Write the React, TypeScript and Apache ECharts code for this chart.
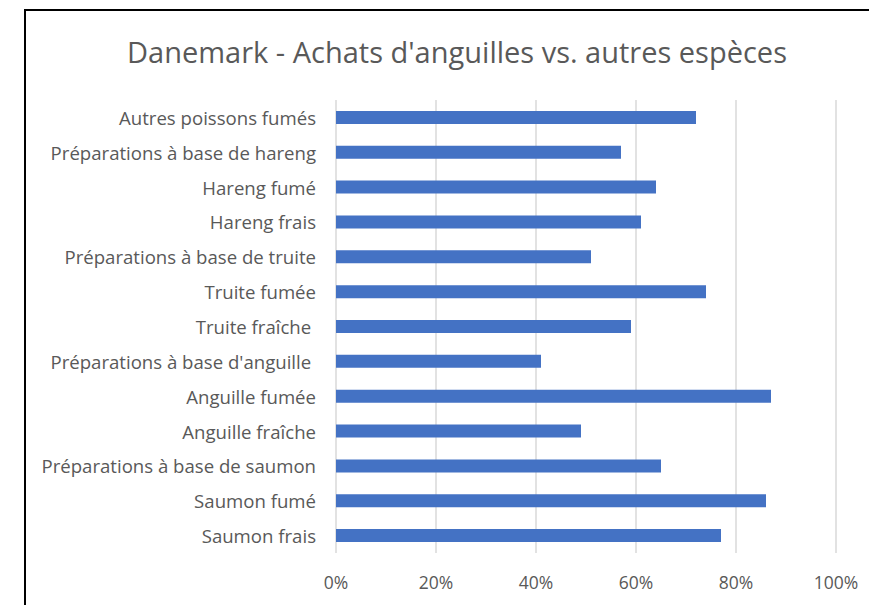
import React, { useEffect, useRef } from "react";
import * as echarts from "echarts";

const categories = [
  "Saumon frais",
  "Saumon fumé",
  "Préparations à base de saumon",
  "Anguille fraîche",
  "Anguille fumée",
  "Préparations à base d'anguille ",
  "Truite fraîche ",
  "Truite fumée",
  "Préparations à base de truite",
  "Hareng frais",
  "Hareng fumé",
  "Préparations à base de hareng",
  "Autres poissons fumés",
];
const values = [0.77, 0.86, 0.65, 0.49, 0.87, 0.41, 0.59, 0.74, 0.51, 0.61, 0.64, 0.57, 0.72];
const titleText = "Danemark - Achats d'anguilles vs. autres espèces";

const FONT = "'Open Sans', 'Noto Sans', sans-serif";

export default function App() {
  const ref = useRef<HTMLDivElement>(null);
  useEffect(() => {
    if (!ref.current) return;
    const chart = echarts.init(ref.current, undefined, { renderer: "svg" });
    chart.setOption({
      animation: false,
      backgroundColor: "#ffffff",
      graphic: [
        { type: "line", shape: { x1: 25, y1: 10, x2: 25, y2: 605 }, style: { stroke: "#000", lineWidth: 2 } },
        { type: "line", shape: { x1: 24, y1: 10, x2: 869, y2: 10 }, style: { stroke: "#000", lineWidth: 2 } },
        {
          type: "text",
          x: 457,
          y: 51,
          style: {
            text: titleText,
            fill: "#595959",
            font: `29px ${FONT}`,
            textAlign: "center",
            textVerticalAlign: "middle",
          },
        },
      ],
      grid: { left: 336, right: 33, top: 100, bottom: 52 },
      xAxis: {
        type: "value",
        min: 0,
        max: 1,
        interval: 0.2,
        axisLine: { show: false },
        axisTick: { show: false },
        splitLine: { lineStyle: { color: "#d9d9d9", width: 1.5 } },
        axisLabel: {
          color: "#595959",
          fontSize: 17.5,
          fontFamily: FONT,
          margin: 20,
          formatter: (v: number) => `${Math.round(v * 100)}%`,
        },
      },
      yAxis: {
        type: "category",
        data: categories,
        axisLine: { show: false },
        axisTick: { show: false },
        axisLabel: { color: "#595959", fontSize: 18.6, fontFamily: FONT, margin: 20 },
      },
      series: [
        {
          type: "bar",
          data: values,
          barWidth: 13,
          itemStyle: { color: "#4472C4" },
        },
      ],
    });
    return () => chart.dispose();
  }, []);
  return (
    <div
      ref={ref}
      style={{ position: "absolute", left: 0, top: 0, width: 869, height: 605 }}
    />
  );
}
